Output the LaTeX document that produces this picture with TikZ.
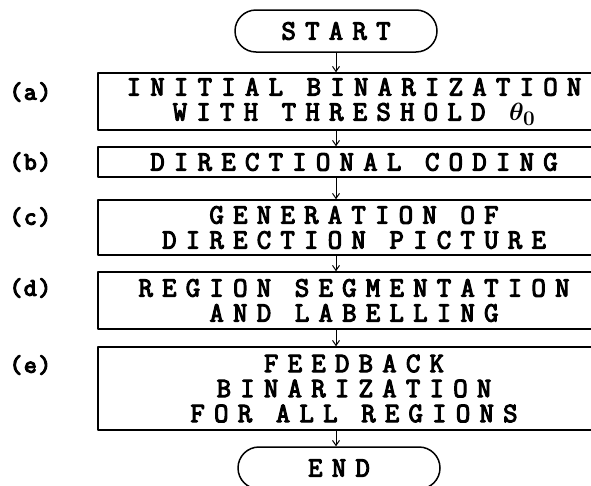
\documentclass[tikz,border=0pt]{standalone}
\usepackage{fontspec}
\usetikzlibrary{arrows.meta}
\newfontfamily\flowfont[LetterSpace=33, FakeBold=4]{Latin Modern Mono}
\newfontfamily\tagfont[LetterSpace=6, FakeBold=5]{Latin Modern Mono}
\begin{document}
\begin{tikzpicture}[x=1pt, y=-1pt, line join=round, line cap=round,
	flow/.style={draw, line width=1.5pt, minimum width=512pt, inner sep=0pt, align=center,
		font=\flowfont\fontsize{28}{25}\selectfont},
	term/.style={draw, line width=1.5pt, rounded corners=21pt, minimum width=202pt,
		minimum height=42pt, inner sep=0pt, font=\flowfont\fontsize{28}{25}\selectfont},
	tag/.style={anchor=west, font=\tagfont\fontsize{25}{24}\selectfont},
	>={Straight Barb[length=5pt,width=7pt]}]
	\useasboundingbox (0,0) rectangle (591,485);
	\clip (0,0) rectangle (591,485);
	%\draw[gray!40] (0,0) grid[step=50] (591,485);
	% terminals
	\node[term] (start) at (336,31) {START};
	\node[term] (end) at (339,468) {END};
	% processing steps
	\node[flow, minimum height=57pt] (a) at (354,101.5) {INITIAL BINARIZATION\\WITH THRESHOLD {\boldmath$\theta_0$}};
	\node[flow, minimum height=30pt] (b) at (354,162) {DIRECTIONAL CODING};
	\node[flow, minimum height=55pt] (c) at (354,227.5) {GENERATION OF\\DIRECTION PICTURE};
	\node[flow, minimum height=57pt] (d) at (354,300.5) {REGION SEGMENTATION\\AND LABELLING};
	\node[flow, minimum height=83pt] (e) at (354,388.5) {FEEDBACK\\BINARIZATION\\FOR ALL REGIONS};
	% step tags
	\node[tag] (ta) at (6,92) {(a)};
	\node[tag] (tb) at (6,162) {(b)};
	\node[tag] (tc) at (6,217) {(c)};
	\node[tag] (td) at (6,288) {(d)};
	\node[tag] (te) at (6,365) {(e)};
	% flow lines
	\draw[->, line width=1pt] (start.south) -- (start.south |- a.north);
	\foreach \p/\q in {a/b, b/c, c/d, d/e, e/end}
		\draw[->, line width=1pt] (\p.south -| start) -- (\q.north -| start);
\end{tikzpicture}
\end{document}
